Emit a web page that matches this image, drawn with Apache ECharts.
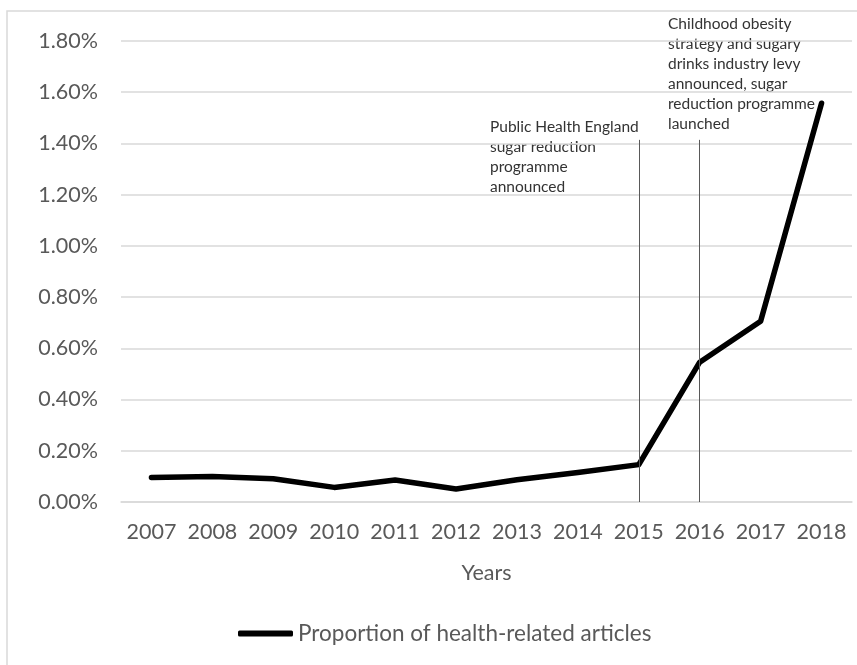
<!DOCTYPE html>
<html>
<head>
<meta charset="utf-8">
<script src="https://cdn.jsdelivr.net/npm/echarts@6/dist/echarts.min.js"></script>
<style>html,body{margin:0;padding:0;background:#fff}#c{width:857px;height:665px}</style>
</head>
<body>
<div id="c"></div>
<script>
const years = ['2007','2008','2009','2010','2011','2012','2013','2014','2015','2016','2017','2018'];
const proportion = [0.096, 0.100, 0.091, 0.057, 0.086, 0.051, 0.087, 0.115, 0.146, 0.546, 0.706, 1.557];
const seriesName = 'Proportion of health-related articles';
const eventYears = ['2015', '2016'];
const eventLineTop = 1.414;
const annotation1 = 'Public Health England\nsugar reduction\nprogramme\nannounced';
const annotation2 = 'Childhood obesity\nstrategy and sugary\ndrinks industry levy\nannounced, sugar\nreduction programme\nlaunched';

const chart = echarts.init(document.getElementById('c'));
const font = 'Lato';
chart.setOption({
  animation: false,
  textStyle: { fontFamily: font },
  grid: { left: 121, right: 5, top: 41, bottom: 163 },
  xAxis: {
    type: 'category',
    data: years,
    boundaryGap: true,
    name: 'Years',
    nameLocation: 'middle',
    nameGap: 60,
    nameTextStyle: { color: '#595959', fontSize: 21.5, fontFamily: font },
    axisLine: { lineStyle: { color: '#d9d9d9', width: 1.5 } },
    axisTick: { show: false },
    axisLabel: { color: '#595959', fontSize: 21.5, margin: 19, fontFamily: font, interval: 0, hideOverlap: false }
  },
  yAxis: {
    type: 'value',
    min: 0, max: 1.8, interval: 0.2,
    axisLine: { show: false },
    axisTick: { show: false },
    splitLine: { lineStyle: { color: '#d9d9d9', width: 1.5 } },
    axisLabel: { color: '#595959', fontSize: 21.5, margin: 23, fontFamily: font,
      formatter: v => v.toFixed(2) + '%' }
  },
  legend: {
    bottom: 15, left: 233,
    itemWidth: 55, itemHeight: 6, itemGap: 5,
    icon: 'roundRect',
    textStyle: { color: '#595959', fontSize: 22.5, fontFamily: font, padding: [0,0,0,0] },
    data: [seriesName]
  },
  series: [{
    name: seriesName,
    type: 'line',
    data: proportion,
    symbol: 'none',
    lineStyle: { color: '#000', width: 5.5, cap: 'round', join: 'round' },
    itemStyle: { color: '#000' },
    markLine: {
      silent: true,
      symbol: 'none',
      label: { show: false },
      lineStyle: { color: '#595959', width: 1, type: 'solid' },
      data: eventYears.map(y => [{ coord: [y, 0] }, { coord: [y, eventLineTop] }])
    }
  }],
  graphic: [
    { type: 'rect', shape: { x: 7, y: 11, width: 900, height: 700 }, style: { fill: 'none', stroke: '#d9d9d9', lineWidth: 1.5 }, silent: true, z: -1 },
    { type: 'text', left: 490, top: 117, style: { text: annotation1, font: '15.5px Lato', fill: '#333', lineHeight: 20 } },
    { type: 'text', left: 668, top: 14, style: { text: annotation2, font: '15.5px Lato', fill: '#333', lineHeight: 20 } }
  ]
});
</script>
</body>
</html>
